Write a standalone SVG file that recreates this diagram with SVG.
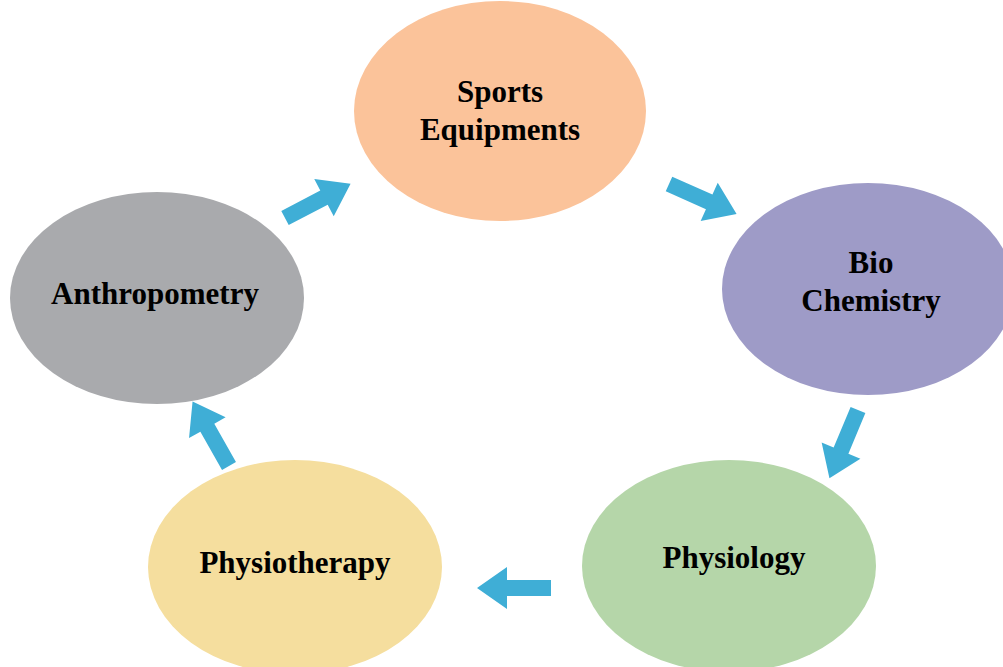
<svg xmlns="http://www.w3.org/2000/svg" width="1003" height="667" viewBox="0 0 1003 667">
<defs>
<style>
.lbl{font-family:"Liberation Serif","DejaVu Serif",serif;font-weight:bold;font-size:31px;fill:#000;text-anchor:middle}
.arr{fill:#3FAED6}
</style>
<path id="blk" d="M0,-8 L44,-8 L44,-21 L74,0 L44,21 L44,8 L0,8 Z"/>
</defs>
<rect width="1003" height="667" fill="#fff"/>
<g id="sports">
<ellipse cx="500" cy="111" rx="146" ry="110" fill="#FBC39A"/>
<text class="lbl" x="500" y="102">Sports</text>
<text class="lbl" x="500" y="140">Equipments</text>
</g>
<g id="biochem">
<ellipse cx="868" cy="289" rx="146" ry="106" fill="#9E9BC7"/>
<text class="lbl" x="871" y="273">Bio</text>
<text class="lbl" x="871" y="311">Chemistry</text>
</g>
<g id="physiology">
<ellipse cx="729" cy="566" rx="147" ry="106" fill="#B5D6A9"/>
<text class="lbl" x="734" y="568">Physiology</text>
</g>
<g id="physiotherapy">
<ellipse cx="295" cy="567" rx="147" ry="107" fill="#F5DE9E"/>
<text class="lbl" x="295" y="573">Physiotherapy</text>
</g>
<g id="anthropometry">
<ellipse cx="157" cy="298" rx="147" ry="106" fill="#A9AAAD"/>
<text class="lbl" x="155" y="304">Anthropometry</text>
</g>
<g id="connectors" class="arr">
<use href="#blk" transform="translate(285,218) rotate(-27.6)"/>
<use href="#blk" transform="translate(669,184) rotate(24)"/>
<use href="#blk" transform="translate(858,410) rotate(112.7)"/>
<use href="#blk" transform="translate(551,588) rotate(180)"/>
<use href="#blk" transform="translate(229,466) rotate(-119.5)"/>
</g>
</svg>
